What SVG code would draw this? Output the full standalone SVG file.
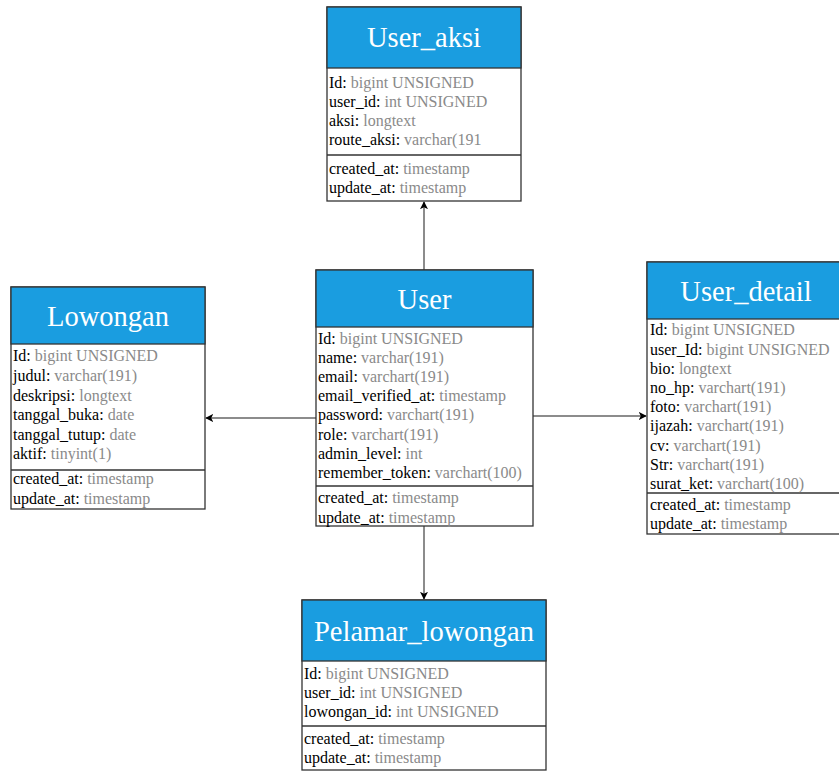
<svg xmlns="http://www.w3.org/2000/svg" width="839" height="772" viewBox="0 0 839 772">
<defs>
<style>
.box{fill:#fff;stroke:#333;stroke-width:1.3}
.hdr{fill:#1a9de0;stroke:#333;stroke-width:1.3}
.sep{stroke:#333;stroke-width:1.3}
.title{font-family:"Liberation Serif","Times New Roman",serif;font-size:28.5px;fill:#fff;text-anchor:middle}
.row{font-family:"Liberation Serif","Times New Roman",serif;font-size:16px;fill:#000}
.t{fill:#8a8a8a}
.conn{stroke:#666;stroke-width:1.5;fill:none;marker-end:url(#arr)}
</style>
<marker id="arr" viewBox="0 0 10 10" refX="9" refY="5" markerWidth="8" markerHeight="8" markerUnits="userSpaceOnUse" orient="auto">
<path d="M0,0 L10,5 L0,10 L2.5,5 z" fill="#000"/>
</marker>
</defs>
<g id="connectors">
<line class="conn" x1="424" y1="270" x2="424" y2="202"/>
<line class="conn" x1="316" y1="418" x2="206" y2="418"/>
<line class="conn" x1="533" y1="416" x2="646" y2="416"/>
<line class="conn" x1="424" y1="526" x2="424" y2="599"/>
</g>
<g id="user_aksi">
<rect class="box" x="327" y="7" width="194" height="194"/>
<rect class="hdr" x="327" y="7" width="194" height="61"/>
<line class="sep" x1="327" y1="155" x2="521" y2="155"/>
<text class="title" x="424" y="47">User_aksi</text>
<text class="row" x="329" y="88">Id: <tspan class="t">bigint UNSIGNED</tspan></text>
<text class="row" x="329" y="107">user_id: <tspan class="t">int UNSIGNED</tspan></text>
<text class="row" x="329" y="126">aksi: <tspan class="t">longtext</tspan></text>
<text class="row" x="329" y="145">route_aksi: <tspan class="t">varchar(191</tspan></text>
<text class="row" x="329" y="174">created_at: <tspan class="t">timestamp</tspan></text>
<text class="row" x="329" y="193">update_at: <tspan class="t">timestamp</tspan></text>
</g>
<g id="lowongan">
<rect class="box" x="11" y="287" width="194" height="222"/>
<rect class="hdr" x="11" y="287" width="194" height="57"/>
<line class="sep" x1="11" y1="470" x2="205" y2="470"/>
<text class="title" x="108" y="326">Lowongan</text>
<text class="row" x="13" y="361">Id: <tspan class="t">bigint UNSIGNED</tspan></text>
<text class="row" x="13" y="381">judul: <tspan class="t">varchar(191)</tspan></text>
<text class="row" x="13" y="401">deskripsi: <tspan class="t">longtext</tspan></text>
<text class="row" x="13" y="420">tanggal_buka: <tspan class="t">date</tspan></text>
<text class="row" x="13" y="440">tanggal_tutup: <tspan class="t">date</tspan></text>
<text class="row" x="13" y="459">aktif: <tspan class="t">tinyint(1)</tspan></text>
<text class="row" x="13" y="484">created_at: <tspan class="t">timestamp</tspan></text>
<text class="row" x="13" y="504">update_at: <tspan class="t">timestamp</tspan></text>
</g>
<g id="user">
<rect class="box" x="316" y="270" width="217" height="256"/>
<rect class="hdr" x="316" y="270" width="217" height="57"/>
<line class="sep" x1="316" y1="486" x2="533" y2="486"/>
<text class="title" x="424.5" y="309">User</text>
<text class="row" x="318" y="344">Id: <tspan class="t">bigint UNSIGNED</tspan></text>
<text class="row" x="318" y="363">name: <tspan class="t">varchar(191)</tspan></text>
<text class="row" x="318" y="382">email: <tspan class="t">varchart(191)</tspan></text>
<text class="row" x="318" y="401">email_verified_at: <tspan class="t">timestamp</tspan></text>
<text class="row" x="318" y="420">password: <tspan class="t">varchart(191)</tspan></text>
<text class="row" x="318" y="440">role: <tspan class="t">varchart(191)</tspan></text>
<text class="row" x="318" y="459">admin_level: <tspan class="t">int</tspan></text>
<text class="row" x="318" y="478">remember_token: <tspan class="t">varchart(100)</tspan></text>
<text class="row" x="318" y="503">created_at: <tspan class="t">timestamp</tspan></text>
<text class="row" x="318" y="523">update_at: <tspan class="t">timestamp</tspan></text>
</g>
<g id="user_detail">
<rect class="box" x="647" y="262" width="199" height="272"/>
<rect class="hdr" x="647" y="262" width="199" height="57"/>
<line class="sep" x1="647" y1="493" x2="846" y2="493"/>
<text class="title" x="746" y="301">User_detail</text>
<text class="row" x="650" y="335">Id: <tspan class="t">bigint UNSIGNED</tspan></text>
<text class="row" x="650" y="355">user_Id: <tspan class="t">bigint UNSIGNED</tspan></text>
<text class="row" x="650" y="374">bio: <tspan class="t">longtext</tspan></text>
<text class="row" x="650" y="393">no_hp: <tspan class="t">varchart(191)</tspan></text>
<text class="row" x="650" y="412">foto: <tspan class="t">varchart(191)</tspan></text>
<text class="row" x="650" y="431">ijazah: <tspan class="t">varchart(191)</tspan></text>
<text class="row" x="650" y="451">cv: <tspan class="t">varchart(191)</tspan></text>
<text class="row" x="650" y="470">Str: <tspan class="t">varchart(191)</tspan></text>
<text class="row" x="650" y="489">surat_ket: <tspan class="t">varchart(100)</tspan></text>
<text class="row" x="650" y="510">created_at: <tspan class="t">timestamp</tspan></text>
<text class="row" x="650" y="529">update_at: <tspan class="t">timestamp</tspan></text>
</g>
<g id="pelamar_lowongan">
<rect class="box" x="302" y="600" width="244" height="170"/>
<rect class="hdr" x="302" y="600" width="244" height="61"/>
<line class="sep" x1="302" y1="726" x2="546" y2="726"/>
<text class="title" x="424" y="641">Pelamar_lowongan</text>
<text class="row" x="304" y="679">Id: <tspan class="t">bigint UNSIGNED</tspan></text>
<text class="row" x="304" y="698">user_id: <tspan class="t">int UNSIGNED</tspan></text>
<text class="row" x="304" y="717">lowongan_id: <tspan class="t">int UNSIGNED</tspan></text>
<text class="row" x="304" y="744">created_at: <tspan class="t">timestamp</tspan></text>
<text class="row" x="304" y="763">update_at: <tspan class="t">timestamp</tspan></text>
</g>
</svg>
